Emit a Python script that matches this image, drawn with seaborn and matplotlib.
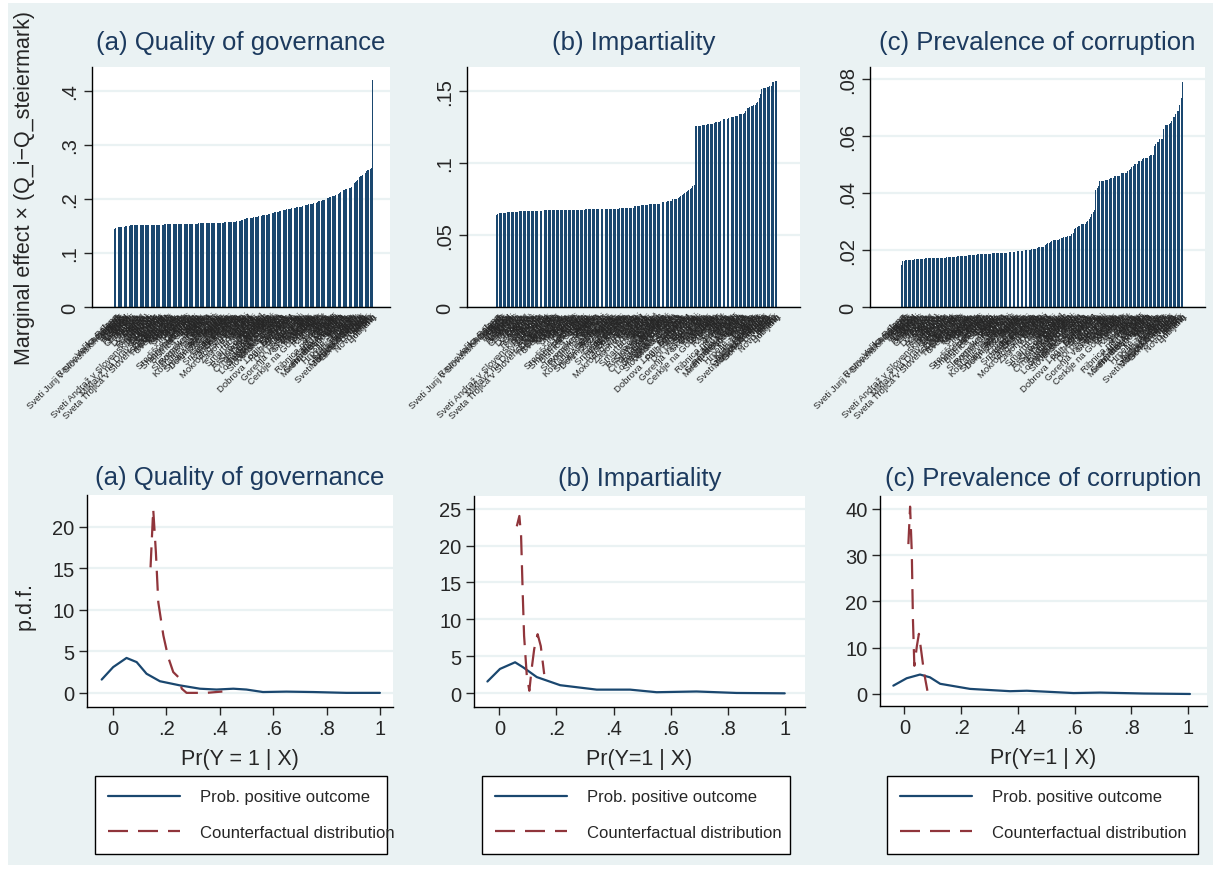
import matplotlib
matplotlib.use("Agg")
import matplotlib.pyplot as plt
import pandas as pd
import seaborn as sns
from matplotlib.patches import Rectangle

# municipalities, ordered as they appear on the bar charts
municipalities = [
    "Velika Polana", "Ravne na Koroškem", "Odranci", "Sveti Jurij v Slovenskih goricah", "Kobilje", "Hodoš", "Turnišče", "Muta", "Osilnica", "Kostel",
    "Solčava", "Razkrižje", "Veržej", "Jezersko", "Beltinci", "Črenšovci", "Mežica", "Ljubno", "Luče", "Bovec",
    "Dobrovnik", "Kuzma", "Grad", "Cankova", "Tišina", "Rogašovci", "Šalovci", "Puconci", "Apače", "Križevci",
    "Sveti Andraž v Slovenskih goricah", "Žetale", "Podlehnik", "Cirkulane", "Zavrč", "Gorišnica", "Miklavž na Dravskem polju", "Dornava", "Destrnik", "Juršinci",
    "Sveta Trojica v Slovenskih goricah", "Cerkvenjak", "Benedikt", "Sveta Ana", "Trnovska vas", "Sveti Tomaž", "Markovci", "Hajdina", "Kidričevo", "Majšperk",
    "Makole", "Poljčane", "Oplotnica", "Starše", "Duplek", "Kungota", "Pesnica", "Šentilj", "Lenart", "Ormož",
    "Središče ob Dravi", "Ljutomer", "Šmarje pri Jelšah", "Rogatec", "Podčetrtek", "Kozje", "Bistrica ob Sotli", "Dobje", "Šentjur", "Štore",
    "Vojnik", "Dobrna", "Vitanje", "Zreče", "Slovenske Konjice", "Rogaška Slatina", "Radeče", "Sevnica", "Krško", "Brežice",
    "Kostanjevica na Krki", "Šentjernej", "Škocjan", "Šmarješke Toplice", "Mirna Peč", "Straža", "Dolenjske Toplice", "Žužemberk", "Semič", "Metlika",
    "Črnomelj", "Kočevje", "Loška dolina", "Bloke", "Šmartno pri Litiji", "Sodražica", "Ribnica", "Velike Lašče", "Dobrepolje", "Ivančna Gorica",
    "Trebnje", "Mirna", "Šentrupert", "Mokronog - Trebelno", "Litija", "Hrastnik", "Trbovlje", "Zagorje ob Savi", "Laško", "Prebold",
    "Braslovče", "Polzela", "Tabor", "Vransko", "Šmartno ob Paki", "Šoštanj", "Velenje", "Mozirje", "Nazarje", "Gornji Grad",
    "Rečica ob Savinji", "Mislinja", "Slovenj Gradec", "Dravograd", "Prevalje", "Črna na Koroškem", "Vuzenica", "Loški Potok", "Radlje ob Dravi", "Podvelka",
    "Selnica ob Dravi", "Ruše", "Lovrenc na Pohorju", "Rače - Fram", "Hoče - Slivnica", "Ilirska Bistrica", "Slovenska Bistrica", "Pivka", "Postojna", "Cerknica",
    "Logatec", "Vrhnika", "Borovnica", "Log - Dragomer", "Horjul", "Dobrova - Polhov Gradec", "Brezovica", "Ig", "Škofljica", "Grosuplje",
    "Dol pri Ljubljani", "Lukovica", "Moravče", "Žiri", "Železniki", "Gorenja vas - Poljane", "Škofja Loka", "Medvode", "Vodice", "Komenda",
    "Mengeš", "Trzin", "Domžale", "Kamnik", "Cerklje na Gorenjskem", "Šenčur", "Preddvor", "Naklo", "Tržič", "Radovljica",
    "Bled", "Gorje", "Bohinj", "Žirovnica", "Jesenice", "Idrija", "Ribnica na Pohorju", "Cerkno", "Tolmin", "Kobarid",
    "Kanal ob Soči", "Brda", "Nova Gorica", "Šempeter - Vrtojba", "Renče - Vogrsko", "Miren - Kostanjevica", "Ajdovščina", "Vipava", "Komen", "Sežana",
    "Divača", "Hrpelje - Kozina", "Koper", "Izola", "Piran", "Kranjska Gora", "Ankaran", "Gornja Radgona", "Radenci", "Sveti Jurij ob Ščavnici",
    "Murska Sobota", "Moravske Toplice", "Gornji Petrovci", "Lendava", "Videm", "Celje", "Žalec", "Kranj", "Novo mesto", "Maribor", "Ptuj", "Ljubljana",
]

# marginal effect x (Q_i - Q_steiermark), sorted
qog_effect = [
    0.145, 0.146, 0.147, 0.1475, 0.148, 0.148, 0.148, 0.149, 0.149, 0.150,
    0.150, 0.150, 0.150, 0.151, 0.151, 0.151, 0.151, 0.151, 0.151, 0.151,
    0.151, 0.151, 0.151, 0.151, 0.151, 0.152, 0.152, 0.152, 0.152, 0.152,
    0.152, 0.152, 0.152, 0.152, 0.152, 0.152, 0.152, 0.152, 0.152, 0.152,
    0.152, 0.153, 0.153, 0.153, 0.153, 0.153, 0.153, 0.153, 0.153, 0.153,
    0.153, 0.153, 0.153, 0.154, 0.154, 0.154, 0.154, 0.154, 0.154, 0.154,
    0.154, 0.154, 0.154, 0.154, 0.154, 0.154, 0.154, 0.154, 0.154, 0.155,
    0.155, 0.155, 0.155, 0.155, 0.155, 0.155, 0.155, 0.156, 0.156, 0.156,
    0.156, 0.156, 0.156, 0.156, 0.156, 0.156, 0.156, 0.156, 0.156, 0.156,
    0.157, 0.157, 0.157, 0.158, 0.158, 0.158, 0.158, 0.158, 0.158, 0.158,
    0.159, 0.159, 0.160, 0.160, 0.161, 0.162, 0.163, 0.163, 0.164, 0.164,
    0.164, 0.165, 0.165, 0.165, 0.166, 0.166, 0.167, 0.167, 0.168, 0.168,
    0.169, 0.170, 0.170, 0.171, 0.171, 0.171, 0.172, 0.172, 0.173, 0.174,
    0.174, 0.175, 0.175, 0.176, 0.176, 0.177, 0.177, 0.178, 0.179, 0.180,
    0.180, 0.181, 0.181, 0.182, 0.182, 0.183, 0.183, 0.184, 0.184, 0.185,
    0.185, 0.185, 0.186, 0.186, 0.187, 0.187, 0.188, 0.188, 0.189, 0.190,
    0.190, 0.191, 0.191, 0.192, 0.192, 0.193, 0.194, 0.196, 0.197, 0.197,
    0.198, 0.199, 0.199, 0.200, 0.201, 0.202, 0.203, 0.204, 0.205, 0.206,
    0.206, 0.207, 0.208, 0.210, 0.212, 0.213, 0.215, 0.216, 0.217, 0.218,
    0.219, 0.220, 0.221, 0.221, 0.222, 0.224, 0.230, 0.232, 0.234, 0.236,
    0.240, 0.242, 0.243, 0.245, 0.247, 0.248, 0.251, 0.253, 0.254, 0.256, 0.258, 0.420,
]

imp_effect = [
    0.0641, 0.0648, 0.0650, 0.0655, 0.0655, 0.0655, 0.0655, 0.0655, 0.0660, 0.0660,
    0.0660, 0.0660, 0.0660, 0.0660, 0.0660, 0.0660, 0.0663, 0.0667, 0.0667, 0.0667,
    0.0667, 0.0667, 0.0667, 0.0667, 0.0667, 0.0667, 0.0667, 0.0667, 0.0667, 0.0667,
    0.0667, 0.0667, 0.0667, 0.0667, 0.0667, 0.0674, 0.0674, 0.0674, 0.0674, 0.0674,
    0.0674, 0.0674, 0.0674, 0.0674, 0.0674, 0.0674, 0.0674, 0.0674, 0.0674, 0.0674,
    0.0674, 0.0674, 0.0674, 0.0674, 0.0674, 0.0674, 0.0674, 0.0674, 0.0674, 0.0674,
    0.0674, 0.0674, 0.0674, 0.0674, 0.0674, 0.0674, 0.0677, 0.0680, 0.0680, 0.0680,
    0.0680, 0.0680, 0.0680, 0.0680, 0.0680, 0.0680, 0.0680, 0.0680, 0.0680, 0.0680,
    0.0680, 0.0680, 0.0680, 0.0680, 0.0680, 0.0680, 0.0680, 0.0680, 0.0680, 0.0680,
    0.0680, 0.0680, 0.0680, 0.0688, 0.0688, 0.0688, 0.0688, 0.0688, 0.0688, 0.0688,
    0.0688, 0.0688, 0.0688, 0.0688, 0.0700, 0.0700, 0.0700, 0.0700, 0.0700, 0.0708,
    0.0708, 0.0708, 0.0708, 0.0708, 0.0708, 0.0718, 0.0718, 0.0718, 0.0718, 0.0718,
    0.0718, 0.0718, 0.0718, 0.0718, 0.0729, 0.0729, 0.0729, 0.0729, 0.0729, 0.0738,
    0.0738, 0.0738, 0.0738, 0.0748, 0.0748, 0.0748, 0.0752, 0.0757, 0.0766, 0.0772,
    0.0778, 0.0784, 0.0790, 0.0800, 0.0808, 0.0815, 0.0822, 0.0830, 0.0838, 0.0850,
    0.1257, 0.1257, 0.1257, 0.1257, 0.1257, 0.1262, 0.1266, 0.1266, 0.1266, 0.1270,
    0.1273, 0.1273, 0.1273, 0.1273, 0.1280, 0.1284, 0.1287, 0.1287, 0.1287, 0.1290,
    0.1300, 0.1304, 0.1308, 0.1308, 0.1308, 0.1310, 0.1315, 0.1320, 0.1320, 0.1320,
    0.1325, 0.1330, 0.1330, 0.1340, 0.1340, 0.1340, 0.1342, 0.1350, 0.1360, 0.1384,
    0.1384, 0.1390, 0.1396, 0.1396, 0.1405, 0.1405, 0.1415, 0.1426, 0.1454, 0.1477,
    0.1514, 0.1520, 0.1520, 0.1520, 0.1530, 0.1530, 0.1537, 0.1537, 0.1560, 0.1560, 0.1570, 0.1572,
]

cor_effect = [
    0.0146, 0.0160, 0.0162, 0.0164, 0.0164, 0.0164, 0.0164, 0.0164, 0.0164, 0.0164,
    0.0167, 0.0167, 0.0167, 0.0167, 0.0167, 0.0167, 0.0167, 0.0167, 0.0171, 0.0171,
    0.0171, 0.0171, 0.0171, 0.0171, 0.0171, 0.0171, 0.0171, 0.0171, 0.0171, 0.0171,
    0.0171, 0.0171, 0.0171, 0.0171, 0.0174, 0.0174, 0.0174, 0.0174, 0.0174, 0.0174,
    0.0174, 0.0176, 0.0178, 0.0178, 0.0178, 0.0178, 0.0178, 0.0178, 0.0178, 0.0178,
    0.0181, 0.0181, 0.0181, 0.0181, 0.0181, 0.0181, 0.0183, 0.0185, 0.0185, 0.0185,
    0.0185, 0.0185, 0.0185, 0.0185, 0.0185, 0.0185, 0.0185, 0.0185, 0.0188, 0.0188,
    0.0188, 0.0188, 0.0188, 0.0188, 0.0188, 0.0188, 0.0188, 0.0188, 0.0188, 0.0188,
    0.0192, 0.0192, 0.0192, 0.0192, 0.0192, 0.0192, 0.0193, 0.0195, 0.0195, 0.0195,
    0.0195, 0.0195, 0.0195, 0.0199, 0.0199, 0.0199, 0.0199, 0.0199, 0.0204, 0.0204,
    0.0204, 0.0205, 0.0207, 0.0210, 0.0212, 0.0212, 0.0212, 0.0212, 0.0216, 0.0220,
    0.0224, 0.0226, 0.0228, 0.0231, 0.0234, 0.0234, 0.0234, 0.0234, 0.0236, 0.0239,
    0.0241, 0.0243, 0.0245, 0.0247, 0.0247, 0.0249, 0.0249, 0.0249, 0.0255, 0.0261,
    0.0275, 0.0277, 0.0280, 0.0285, 0.0285, 0.0290, 0.0290, 0.0290, 0.0290, 0.0299,
    0.0303, 0.0308, 0.0316, 0.0325, 0.0332, 0.0340, 0.0410, 0.0418, 0.0426, 0.0441,
    0.0441, 0.0441, 0.0441, 0.0447, 0.0447, 0.0447, 0.0450, 0.0452, 0.0452, 0.0452,
    0.0458, 0.0458, 0.0458, 0.0458, 0.0458, 0.0469, 0.0469, 0.0469, 0.0469, 0.0469,
    0.0476, 0.0480, 0.0485, 0.0490, 0.0495, 0.0500, 0.0500, 0.0500, 0.0513, 0.0513,
    0.0513, 0.0518, 0.0521, 0.0524, 0.0524, 0.0524, 0.0530, 0.0535, 0.0535, 0.0535,
    0.0565, 0.0572, 0.0579, 0.0579, 0.0590, 0.0590, 0.0590, 0.0624, 0.0638, 0.0638,
    0.0638, 0.0641, 0.0644, 0.0654, 0.0666, 0.0666, 0.0676, 0.0687, 0.0687, 0.0708, 0.0734, 0.0790,
]

# densities of Pr(Y=1|X): observed and counterfactual
qog_pr_x = [-0.042, 0.001, 0.051, 0.089, 0.126, 0.176, 0.251, 0.326, 0.388, 0.451, 0.50, 0.562, 0.65, 0.75, 0.874, 1.0]
qog_pr_y = [1.6, 3.1, 4.2, 3.7, 2.3, 1.4, 0.9, 0.5, 0.4, 0.5, 0.4, 0.1, 0.15, 0.1, 0.0, 0.0]
qog_cf_x = [0.141, 0.151, 0.161, 0.170, 0.189, 0.207, 0.226, 0.245, 0.258, 0.276, 0.35, 0.41]
qog_cf_y = [15.1, 22.1, 16.9, 10.9, 6.9, 4.3, 2.5, 1.9, 0.5, 0.0, 0.0, 0.16]

imp_pr_x = [-0.042, 0.002, 0.055, 0.084, 0.131, 0.213, 0.341, 0.458, 0.551, 0.691, 0.831, 1.0]
imp_pr_y = [1.6, 3.3, 4.2, 3.5, 2.2, 1.1, 0.5, 0.5, 0.15, 0.25, 0.05, 0.0]
imp_cf_x = [0.061, 0.070, 0.076, 0.082, 0.0865, 0.096, 0.105, 0.113, 0.122, 0.134, 0.145, 0.157]
imp_cf_y = [22.6, 24.0, 21.3, 13.2, 7.8, 2.4, 0.35, 3.3, 6.0, 8.0, 6.4, 2.6]

cor_pr_x = [-0.039, 0.008, 0.055, 0.090, 0.126, 0.231, 0.372, 0.431, 0.596, 0.69, 0.843, 1.006]
cor_pr_y = [1.8, 3.4, 4.2, 3.6, 2.2, 1.1, 0.6, 0.7, 0.2, 0.3, 0.1, 0.0]
cor_cf_x = [0.014, 0.020, 0.026, 0.030, 0.035, 0.044, 0.051, 0.059, 0.069, 0.081]
cor_cf_y = [32.4, 40.5, 30.6, 16.2, 6.1, 10.4, 13.0, 9.4, 4.7, 0.7]

BG = "#eaf2f3"
NAVY = "#1a476f"
MAROON = "#90353b"
TITLE = "#1c3a5e"

sns.set_style("white")
plt.rcParams["font.family"] = ["Liberation Sans", "DejaVu Sans"]

W, H = 1219, 870
fig = plt.figure(figsize=(W / 100, H / 100), dpi=100, facecolor="white")
fig.patches.append(Rectangle((8 / W, 4 / H), 1205 / W, 862 / H, transform=fig.transFigure,
                             facecolor=BG, edgecolor="none", zorder=-10))


def px_axes(x0, y0, x1, y1):
    return fig.add_axes([x0 / W, 1 - y1 / H, (x1 - x0) / W, (y1 - y0) / H])


def style_axes(ax):
    ax.set_facecolor("white")
    for side in ("top", "right"):
        ax.spines[side].set_visible(False)
    for side in ("left", "bottom"):
        ax.spines[side].set_color("black")
        ax.spines[side].set_linewidth(1.0)
    ax.yaxis.grid(True, color=BG, linewidth=1.6)
    ax.xaxis.grid(False)
    ax.set_axisbelow(True)


# top row: sorted bar charts
bar_panels = [
    ("(a) Quality of governance", qog_effect, (92, 68, 390, 308), 0.4444,
     [0, .1, .2, .3, .4], ["0", ".1", ".2", ".3", ".4"], (-18.4, 225.3)),
    ("(b) Impartiality", imp_effect, (467, 68, 800, 308), 0.1667,
     [0, .05, .1, .15], ["0", ".05", ".1", ".15"], (-22.3, 228.8)),
    ("(c) Prevalence of corruption", cor_effect, (870, 68, 1205, 308), 0.0842,
     [0, .02, .04, .06, .08], ["0", ".02", ".04", ".06", ".08"], (-23.7, 228.0)),
]

for title, values, box, ytop, yticks, ylabels, xlim in bar_panels:
    ax = px_axes(*box)
    df = pd.DataFrame({"municipality": municipalities, "effect": values})
    sns.barplot(data=df, x="municipality", y="effect", color=NAVY, saturation=1,
                width=0.72, linewidth=0, ax=ax)
    style_axes(ax)
    ax.set_xlim(*xlim)
    ax.set_ylim(0, ytop)
    ax.set_yticks(yticks)
    ax.set_yticklabels(ylabels, rotation=90, va="center", fontsize=14.5)
    ax.tick_params(axis="y", length=6, width=1, direction="out", left=True, pad=3)
    ax.tick_params(axis="x", length=0, pad=3, labelsize=6.8)
    plt.setp(ax.get_xticklabels(), rotation=45, ha="right", rotation_mode="anchor")
    ax.set_xlabel("")
    ax.set_ylabel("")
    ax.set_title(title, fontsize=18.5, color=TITLE, pad=13)

# bottom row: densities
dens_panels = [
    ("(a) Quality of governance", "Pr(Y = 1 | X)", qog_pr_x, qog_pr_y, qog_cf_x, qog_cf_y,
     (87, 496, 393, 708), (-0.097, 1.049), (-1.7, 23.8), [0, 5, 10, 15, 20], (95, 777, 387)),
    ("(b) Impartiality", "Pr(Y=1 | X)", imp_pr_x, imp_pr_y, imp_cf_x, imp_cf_y,
     (474, 497, 805, 708), (-0.089, 1.071), (-1.85, 26.7), [0, 5, 10, 15, 20, 25], (482, 777, 790)),
    ("(c) Prevalence of corruption", "Pr(Y=1 | X)", cor_pr_x, cor_pr_y, cor_cf_x, cor_cf_y,
     (880, 497, 1207, 707), (-0.086, 1.066), (-2.6, 42.8), [0, 10, 20, 30, 40], (887, 777, 1198)),
]

for title, xlab, px, py, cx, cy, box, xlim, ylim, yticks, leg in dens_panels:
    ax = px_axes(*box)
    sns.lineplot(x=px, y=py, ax=ax, color=NAVY, linewidth=1.6, sort=False,
                 estimator=None, label="Prob. positive outcome")
    sns.lineplot(x=cx, y=cy, ax=ax, color=MAROON, linewidth=1.6, sort=False,
                 estimator=None, linestyle=(0, (9, 4.5)), label="Counterfactual distribution")
    style_axes(ax)
    ax.set_xlim(*xlim)
    ax.set_ylim(*ylim)
    ax.set_xticks([0, .2, .4, .6, .8, 1])
    ax.set_xticklabels(["0", ".2", ".4", ".6", ".8", "1"])
    ax.set_yticks(yticks)
    ax.tick_params(axis="both", length=6, width=1, direction="out", labelsize=14.5,
                   left=True, bottom=True, pad=3)
    ax.set_xlabel(xlab, fontsize=15.5, labelpad=7)
    ax.set_ylabel("")
    ax.set_title(title, fontsize=18.5, color=TITLE, pad=8)
    lx0, ly0, lx1 = leg
    lg = ax.legend(loc="upper left", bbox_to_anchor=(lx0 / W, 1 - ly0 / H, (lx1 - lx0) / W, 0),
                   bbox_transform=fig.transFigure, mode="expand", borderaxespad=0,
                   frameon=True, fancybox=False, framealpha=1, edgecolor="black",
                   fontsize=12, handlelength=4.3, handletextpad=1.2, labelspacing=1.25,
                   borderpad=0.8)
    lg.get_frame().set_linewidth(1.0)

fig.text(25 / W, 1 - 188 / H, "Marginal effect × (Q_i−Q_steiermark)", rotation=90,
         ha="center", va="center", fontsize=15.5)
fig.text(25 / W, 1 - 606 / H, "p.d.f.", rotation=90, ha="center", va="center", fontsize=15.5)

fig.savefig("out.png", dpi=100, facecolor=fig.get_facecolor())
